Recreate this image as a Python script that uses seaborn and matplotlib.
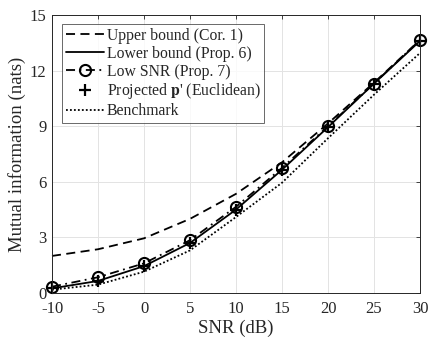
import matplotlib
matplotlib.use("Agg")
import matplotlib.pyplot as plt
import seaborn as sns
import pandas as pd

snr = [-10, -5, 0, 5, 10, 15, 20, 25, 30]
upper = [2.0, 2.36, 2.95, 4.0, 5.35, 7.05, 9.15, 11.35, 13.65]
lower = [0.25, 0.65, 1.45, 2.7, 4.5, 6.65, 8.95, 11.3, 13.6]
low_snr = [0.34, 0.85, 1.6, 2.85, 4.65, 6.75, 9.0, 11.3, 13.65]
projected = [0.25, 0.65, 1.45, 2.7, 4.5, 6.65, 8.95, 11.3, 13.6]
benchmark = [0.18, 0.45, 1.15, 2.3, 4.1, 5.95, 8.35, 10.7, 12.95]

labels = ["Upper bound (Cor. 1)", "Lower bound (Prop. 6)", "Low SNR (Prop. 7)",
          "Projected $\\mathbf{p}$' (Euclidean)", "Benchmark"]
xticks = [-10, -5, 0, 5, 10, 15, 20, 25, 30]
yticks = [0, 3, 6, 9, 12, 15]

sns.set_style("white")
plt.rcParams["font.family"] = ["Liberation Serif", "DejaVu Serif"]
plt.rcParams["mathtext.fontset"] = "stix"

fig = plt.figure(figsize=(4.36, 3.47), dpi=100)
ax = fig.add_axes([52/436, 1 - 293/347, (420-52)/436, (293-15)/347])

df = pd.DataFrame({"snr": snr, "upper": upper, "lower": lower, "low": low_snr,
                   "proj": projected, "bench": benchmark})

lw = 1.3
sns.lineplot(data=df, x="snr", y="upper", ax=ax, color="black", lw=lw,
             linestyle=(0, (5, 3)), label=labels[0], clip_on=False)
sns.lineplot(data=df, x="snr", y="lower", ax=ax, color="black", lw=lw,
             linestyle="-", label=labels[1], clip_on=False)
sns.lineplot(data=df, x="snr", y="low", ax=ax, color="black", lw=lw,
             linestyle=(0, (5, 2.5, 1, 2.5)), marker="o", markersize=8,
             markerfacecolor="none", markeredgecolor="black", markeredgewidth=1.5,
             label=labels[2], clip_on=False)
sns.lineplot(data=df, x="snr", y="proj", ax=ax, color="black", lw=0,
             marker="+", markersize=9, markeredgewidth=1.6,
             markeredgecolor="black", label=labels[3], clip_on=False)
sns.lineplot(data=df, x="snr", y="bench", ax=ax, color="black", lw=lw,
             linestyle=(0, (1, 1.2)), label=labels[4], clip_on=False)

ax.set_xlim(-10, 30)
ax.set_ylim(0, 15)
ax.set_xticks(xticks)
ax.set_yticks(yticks)
ax.set_xticklabels([str(t) for t in xticks])
ax.set_yticklabels([str(t) for t in yticks])
ax.set_xlabel("SNR (dB)", fontsize=13.5, labelpad=2)
ax.set_ylabel("Mutual information (nats)", fontsize=13.5, labelpad=3)
ax.tick_params(direction="in", top=True, right=True, length=3, width=0.6,
               labelsize=12, colors="#262626")
ax.tick_params(axis="x", pad=6)
ax.tick_params(axis="y", pad=4)
ax.grid(True, color="#e3e3e3", lw=0.7)
for s in ax.spines.values():
    s.set_color("#262626")
    s.set_linewidth(0.7)

leg = ax.legend(loc="upper left", bbox_to_anchor=(0.027, 0.968), fontsize=11.3,
                frameon=True, fancybox=False, edgecolor="#262626",
                handlelength=2.4, handletextpad=0.2, labelspacing=0.12,
                borderpad=0.25, borderaxespad=0)
leg.get_frame().set_linewidth(0.6)

fig.savefig("out.png", dpi=100)
